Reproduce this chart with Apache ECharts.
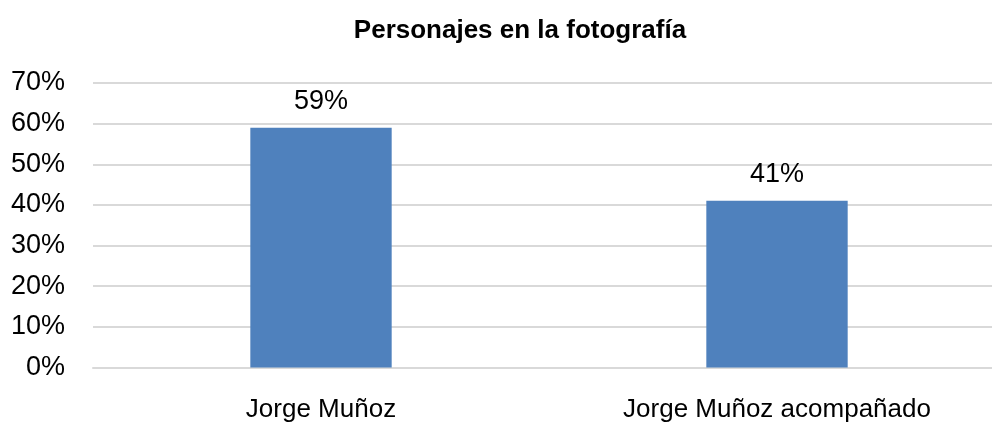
<!DOCTYPE html>
<html><head><meta charset="utf-8">
<script src="https://cdn.jsdelivr.net/npm/echarts@6/dist/echarts.min.js"></script>
<style>html,body{margin:0;padding:0;background:#fff}#c{width:992px;height:424px}</style>
</head><body><div id="c"></div>
<script>
const title = "Personajes en la fotografía";
const categories = ["Jorge Muñoz", "Jorge Muñoz acompañado"];
const values = [59, 41];
const yTicks = [0, 10, 20, 30, 40, 50, 60, 70];

const FONT = '"Liberation Sans", Arial, sans-serif';
const chart = echarts.init(document.getElementById('c'), null, {renderer: 'canvas'});
chart.setOption({
  backgroundColor: '#ffffff',
  animation: false,
  title: {
    text: title, left: 515, top: 13, textAlign: 'center',
    textStyle: {fontFamily: FONT, fontSize: 26, fontWeight: 'bold', color: '#000'}
  },
  grid: {left: 93, top: 83, width: 912, height: 284.5, containLabel: false, outerBoundsMode: 'none'},
  xAxis: {
    type: 'category', data: categories,
    axisLine: {show: true, lineStyle: {color: '#d9d9d9', width: 2}},
    axisTick: {show: false},
    axisLabel: {fontFamily: FONT, fontSize: 26, color: '#000', margin: 29}
  },
  yAxis: {
    type: 'value', min: yTicks[0], max: yTicks[yTicks.length - 1], interval: 10,
    axisLine: {show: false}, axisTick: {show: false},
    splitLine: {lineStyle: {color: '#d9d9d9', width: 2}},
    axisLabel: {fontFamily: FONT, fontSize: 27, color: '#000', margin: 28,
      formatter: v => v + '%'}
  },
  series: [{
    type: 'bar', data: values, barWidth: '31%',
    itemStyle: {color: '#4f81bd'},
    label: {show: true, position: 'top', distance: 13, formatter: p => p.value + '%',
      fontFamily: FONT, fontSize: 27, color: '#000'}
  }]
});
</script></body></html>
